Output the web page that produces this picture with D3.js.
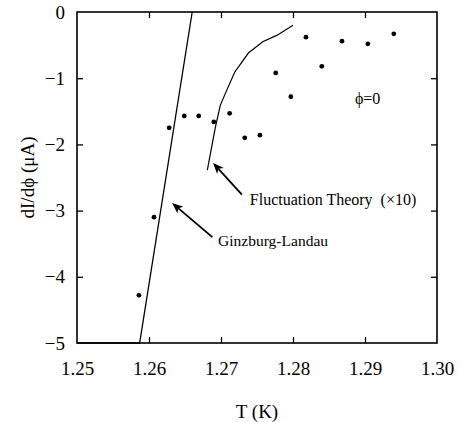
<!DOCTYPE html>
<html>
<head>
<meta charset="utf-8">
<script src="https://cdn.jsdelivr.net/npm/d3@7"></script>
<style>
  body { margin: 0; background: #fff; }
</style>
</head>
<body>
<svg id="chart" width="468" height="422"></svg>
<script>
// measured points, phi = 0
const pointT = [1.2586, 1.2607, 1.2628, 1.2649, 1.2669, 1.2690, 1.2712, 1.2733, 1.2754,
  1.2776, 1.2797, 1.2818, 1.2840, 1.2868, 1.2904, 1.2940];
const pointV = [-4.28, -3.10, -1.75, -1.57, -1.57, -1.66, -1.53, -1.90, -1.86,
  -0.92, -1.28, -0.38, -0.82, -0.44, -0.48, -0.33];

// Ginzburg-Landau curve
const glT = [1.2500, 1.2587, 1.2660];
const glV = [-5, -5, 0];

// fluctuation theory (x10)
const flucT = [1.2681, 1.2692, 1.2699, 1.2708, 1.2719, 1.2738, 1.2758, 1.2778, 1.2800];
const flucV = [-2.39, -1.75, -1.41, -1.18, -0.91, -0.62, -0.45, -0.35, -0.20];

const xTicks = [1.25, 1.26, 1.27, 1.28, 1.29, 1.30];
const yTicks = [0, -1, -2, -3, -4, -5];

const serif = "'Liberation Serif', 'Times New Roman', Times, serif";

var svg = d3.select("#chart");

var plotL = 77, plotR = 437, plotT = 12, plotB = 343;

var x = d3.scaleLinear().domain([1.25, 1.30]).range([plotL, plotR]);
var y = d3.scaleLinear().domain([0, -5]).range([plotT, plotB]);

// tick marks all point inward
svg.append("g")
  .attr("transform", "translate(0," + plotB + ")")
  .call(d3.axisBottom(x).tickValues(xTicks).tickSize(-6).tickPadding(19)
    .tickFormat(d3.format(".2f")))
  .call(g => g.select(".domain").remove())
  .call(g => g.selectAll("line").filter(d => d == 1.25 || d == 1.30).remove())
  .call(g => g.selectAll("text").style("font-size", "19px").style("font-family", serif));

svg.append("g")
  .attr("transform", "translate(" + plotL + ",0)")
  .call(d3.axisLeft(y).tickValues(yTicks).tickSize(-6).tickPadding(12)
    .tickFormat(d3.format("d")))
  .call(g => g.select(".domain").remove())
  .call(g => g.selectAll("line").filter(d => d == 0 || d == -5).remove())
  .call(g => g.selectAll("text").style("font-size", "19px").style("font-family", serif));

svg.append("g")
  .attr("transform", "translate(0," + plotT + ")")
  .call(d3.axisTop(x).tickValues(xTicks.slice(1, -1)).tickSize(-6).tickFormat(""))
  .call(g => g.select(".domain").remove());

svg.append("g")
  .attr("transform", "translate(" + plotR + ",0)")
  .call(d3.axisRight(y).tickValues(yTicks.slice(1, -1)).tickSize(-6).tickFormat(""))
  .call(g => g.select(".domain").remove());

svg.selectAll(".tick line").attr("stroke", "#000").attr("stroke-width", 1.3);

svg.append("rect")
  .attr("x", plotL)
  .attr("y", plotT)
  .attr("width", plotR - plotL)
  .attr("height", plotB - plotT)
  .style("stroke", "black")
  .style("stroke-width", 1.6)
  .style("fill", "none");

// axis titles
svg.append("text")
  .attr("x", (plotL + plotR) / 2)
  .attr("y", 418)
  .attr("text-anchor", "middle")
  .style("font-family", serif)
  .style("font-size", "19px")
  .text("T (K)");

svg.append("text")
  .attr("transform", "translate(34," + (plotT + plotB) / 2 + ") rotate(-90)")
  .attr("text-anchor", "middle")
  .style("font-family", serif)
  .style("font-size", "19px")
  .text("dI/d\u03d5 (\u03bcA)");

var line = d3.line().x(d => x(d[0])).y(d => y(d[1]));

svg.append("path")
  .datum(d3.zip(glT, glV))
  .attr("d", line)
  .attr("fill", "none")
  .attr("stroke", "#000")
  .attr("stroke-width", 1.3);

svg.append("path")
  .datum(d3.zip(flucT, flucV))
  .attr("d", line)
  .attr("fill", "none")
  .attr("stroke", "#000")
  .attr("stroke-width", 1.2);

svg.selectAll("circle.pt")
  .data(d3.zip(pointT, pointV))
  .enter().append("circle")
  .attr("class", "pt")
  .attr("cx", d => x(d[0]))
  .attr("cy", d => y(d[1]))
  .attr("r", 2.4)
  .attr("fill", "#000");

// annotations (data coordinates)
const arrows = [
  { from: [1.2729, -2.76], to: [1.2689, -2.28] },
  { from: [1.2688, -3.40], to: [1.2632, -2.885] }
];

arrows.forEach(function(a) {
  var x1 = x(a.from[0]), y1 = y(a.from[1]), x2 = x(a.to[0]), y2 = y(a.to[1]);
  var ang = Math.atan2(y2 - y1, x2 - x1);
  var len = 11, wid = 4.5;
  var bx = x2 - len * Math.cos(ang), by = y2 - len * Math.sin(ang);
  svg.append("line")
    .attr("x1", x1).attr("y1", y1)
    .attr("x2", bx + 3 * Math.cos(ang)).attr("y2", by + 3 * Math.sin(ang))
    .attr("stroke", "#000").attr("stroke-width", 1.8);
  var pts = [
    [x2, y2],
    [bx + wid * Math.sin(ang), by - wid * Math.cos(ang)],
    [bx + 3 * Math.cos(ang), by + 3 * Math.sin(ang)],
    [bx - wid * Math.sin(ang), by + wid * Math.cos(ang)]
  ];
  svg.append("path")
    .attr("d", "M" + pts.join("L") + "Z")
    .attr("fill", "#000");
});

svg.append("text")
  .attr("x", x(1.2740))
  .attr("y", y(-2.92))
  .attr("xml:space", "preserve")
  .style("font-family", serif)
  .style("font-size", "16px")
  .text("Fluctuation Theory  (\u00d710)");

svg.append("text")
  .attr("x", x(1.2696))
  .attr("y", y(-3.53))
  .style("font-family", serif)
  .style("font-size", "15.5px")
  .text("Ginzburg-Landau");

svg.append("text")
  .attr("x", x(1.2886))
  .attr("y", y(-1.39))
  .style("font-family", serif)
  .style("font-size", "16px")
  .text("\u03d5=0");
</script>
</body>
</html>
